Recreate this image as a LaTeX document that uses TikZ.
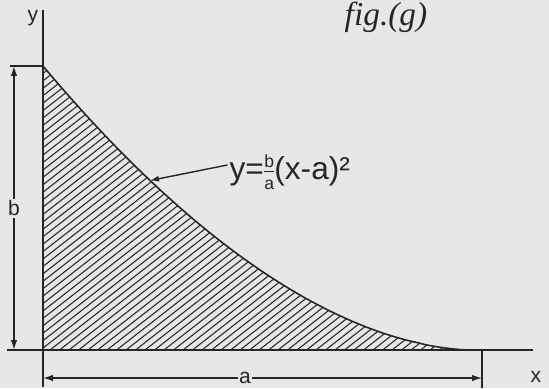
\documentclass[tikz,border=0pt]{standalone}
\usepackage{fontspec}
\newfontfamily\eqfont{Liberation Sans}
\newfontfamily\capfont{Liberation Serif}
\usetikzlibrary{arrows.meta, positioning, calc}
\definecolor{paper}{RGB}{231,231,229}
\definecolor{ink}{RGB}{38,38,38}

\begin{document}
\begin{tikzpicture}[
  axis/.style={line width=0.9pt, ink},
  hatch/.style={line width=0.6pt, ink},
  dim/.style={line width=0.8pt, ink, {Latex[length=2mm,width=1.3mm]}-{Latex[length=2mm,width=1.3mm]}},
  lbl/.style={font=\eqfont\large, text=ink, inner sep=1pt},
]
  \fill[paper] (0,0) rectangle (10.98,7.76);
  \useasboundingbox (0,0) rectangle (10.98,7.76);

  % main points
  \coordinate (O) at (0.86,0.76);
  \coordinate (T) at (0.86,6.44);
  \coordinate (E) at (9.45,0.76);
  \coordinate (P) at (3.0,4.15);

  % hatched area under the curve
  \begin{scope}
    \clip plot[domain=0:0.99, samples=60] ({0.86+8.59*\x},{0.76+5.68*(1-\x)^1.8}) -- (E) -- (O) -- cycle;
    \foreach \s in {-6.6,-6.41,...,9.6}
      \draw[hatch] (\s,0.76) -- ++(38:12);
  \end{scope}
  \draw[axis] plot[domain=0:0.99, samples=60] ({0.86+8.59*\x},{0.76+5.68*(1-\x)^1.8}) -- (E);

  % axes
  \coordinate (ytop) at (0.86,7.56);
  \coordinate (ybot) at (0.86,0.02);
  \coordinate (xleft) at (0.14,0.76);
  \coordinate (xright) at (10.66,0.76);
  \draw[axis] (ybot) -- (ytop);
  \draw[axis] (xleft) -- (xright);
  \node[lbl] (ylab) at (0.66,7.40) {y};
  \node[lbl] (xlab) at (10.72,0.22) {x};

  % dimension b
  \coordinate (tick) at (0.2,6.44);
  \coordinate (bt) at (0.28,6.44);
  \coordinate (bb) at (0.28,0.76);
  \draw[axis] (tick) -- (T);
  \draw[dim] (bt) -- (bb) node[midway, fill=paper, lbl] (blab) {b};

  % dimension a
  \coordinate (aext) at (9.64,0.76);
  \coordinate (aextb) at (9.64,0.0);
  \coordinate (al) at (0.86,0.2);
  \coordinate (ar) at (9.64,0.2);
  \draw[axis] (aext) -- (aextb);
  \draw[dim] (al) -- (ar) node[pos=0.46, fill=paper, lbl, inner sep=0.5pt] (alab) {a};

  % curve label
  \node[anchor=west, font=\eqfont\fontsize{18}{20}\selectfont, text=ink, inner sep=1pt] (eq) at (4.55,4.32)
    {y=\kern-1pt$\frac{\mbox{\eqfont\fontsize{10}{10}\selectfont b}}{\mbox{\eqfont\fontsize{10}{10}\selectfont a}}$\kern-1pt(x-a)²};
  \draw[line width=0.8pt, ink, -{Latex[length=1.8mm,width=1.2mm]}] ([yshift=4pt]eq.west) -- (P);

  % caption
  \node[font=\capfont\itshape\fontsize{19}{21}\selectfont, text=ink] (cap) at (7.72,7.42) {fig.(g)};
\end{tikzpicture}
\end{document}
